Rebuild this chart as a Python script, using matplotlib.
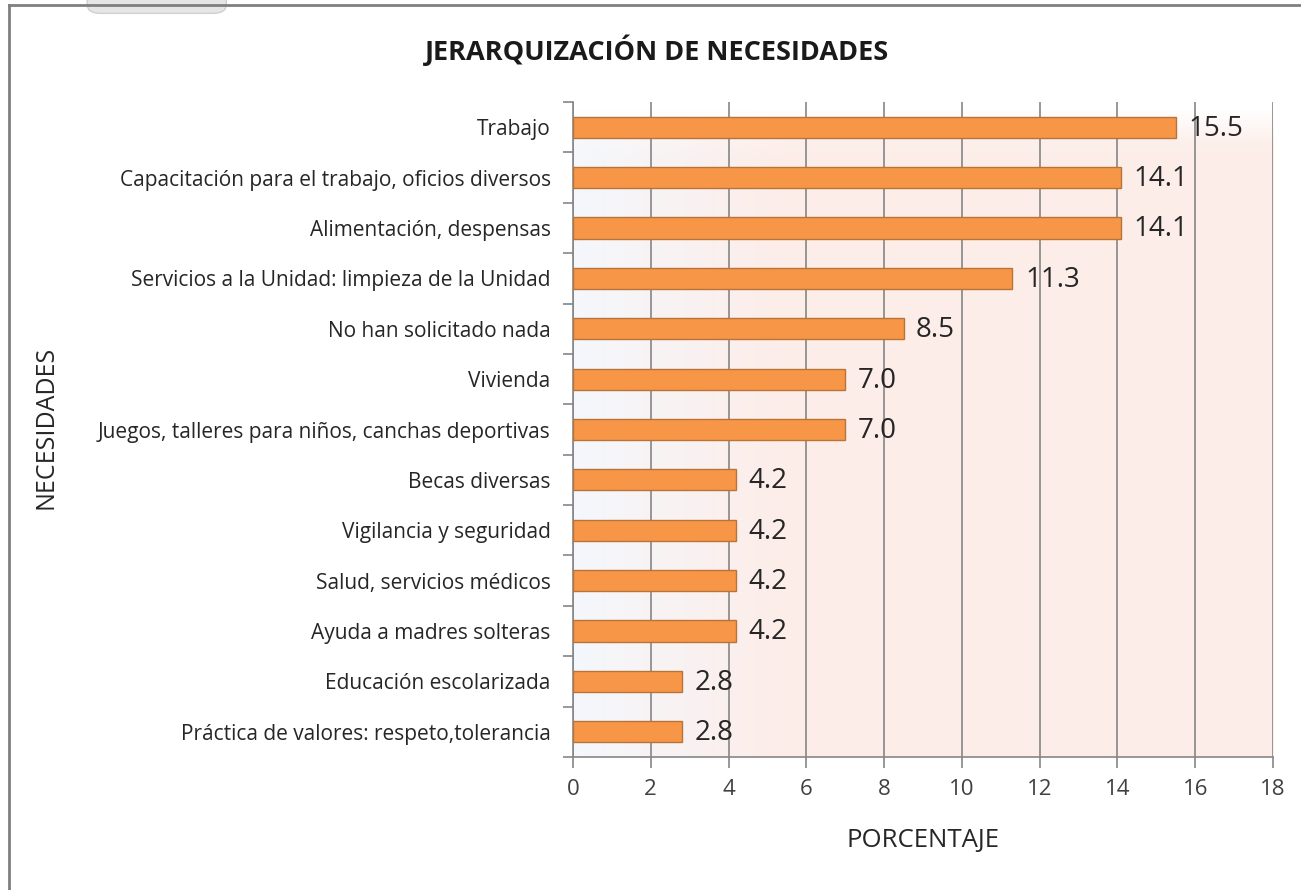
import numpy as np
import matplotlib
matplotlib.use('Agg')
import matplotlib.pyplot as plt
from matplotlib.patches import FancyBboxPatch
from matplotlib.lines import Line2D

necesidades = [
    'Trabajo',
    'Capacitación para el trabajo, oficios diversos',
    'Alimentación, despensas',
    'Servicios a la Unidad: limpieza de la Unidad',
    'No han solicitado nada',
    'Vivienda',
    'Juegos, talleres para niños, canchas deportivas',
    'Becas diversas',
    'Vigilancia y seguridad',
    'Salud, servicios médicos',
    'Ayuda a madres solteras',
    'Educación escolarizada',
    'Práctica de valores: respeto,tolerancia',
]
porcentaje = [15.5, 14.1, 14.1, 11.3, 8.5, 7.0, 7.0, 4.2, 4.2, 4.2, 4.2, 2.8, 2.8]
x_ticks = [0, 2, 4, 6, 8, 10, 12, 14, 16, 18]

plt.rcParams['font.family'] = ['Open Sans', 'DejaVu Sans']
grey = '#868686'

fig = plt.figure(figsize=(13.01, 8.90), dpi=100)
ax = fig.add_axes([0.4404, 0.1494, 0.5381, 0.736])

# soft gradient behind the bars: bluish white on the left, pale pink to the right
n = 256
t = np.clip(np.linspace(0, 1, n) / 0.3, 0, 1)
left = np.array([0.96, 0.97, 0.99])
right = np.array([0.99, 0.93, 0.91])
row = left[None, :] * (1 - t[:, None]) + right[None, :] * t[:, None]
grad = np.tile(row[None, :, :], (40, 1, 1))
# fade to white along the top edge (row 0 is drawn at the top)
vfade = np.clip(np.linspace(0, 1, 40) / 0.06, 0, 1)[:, None, None]
grad = grad * vfade + np.ones(3) * (1 - vfade)
ax.imshow(grad, extent=[0, 1, 0, 1], transform=ax.transAxes, origin='upper',
          aspect='auto', zorder=0, interpolation='bilinear')

y = np.arange(len(necesidades))
ax.barh(y, porcentaje, height=0.42, color='#F79646', edgecolor='#B8733A',
        linewidth=1.0, zorder=3)
for yi, v in zip(y, porcentaje):
    ax.annotate(f'{v:.1f}', (v, yi), xytext=(9, -1), textcoords='offset points',
                va='center', ha='left', fontsize=20, color='#262626', zorder=4)

ax.set_xlim(0, 18)
ax.set_ylim(len(necesidades) - 0.5, -0.5)
ax.set_xticks(x_ticks)
ax.set_xticklabels([str(v) for v in x_ticks], fontsize=16, color='#404040')
ax.set_yticks(y)
ax.set_yticklabels(necesidades, fontsize=15, color='#262626')
ax.set_yticks(np.arange(len(necesidades) + 1) - 0.5, minor=True)
ax.tick_params(axis='y', which='major', length=0, pad=16)
ax.tick_params(axis='y', which='minor', length=7, color=grey, width=1.2)
ax.tick_params(axis='x', length=8, color=grey, width=1.2, pad=8)
ax.grid(axis='x', color=grey, linewidth=1.2, zorder=1)
ax.set_axisbelow(True)
for side in ('top', 'right'):
    ax.spines[side].set_visible(False)
for side in ('left', 'bottom'):
    ax.spines[side].set_color(grey)
    ax.spines[side].set_linewidth(1.2)

ax.set_xlabel('PORCENTAJE', fontsize=18.5, color='#262626', labelpad=20)
fig.text(0.035, 0.52, 'NECESIDADES', rotation=90, fontsize=18, color='#262626',
         ha='center', va='center')
fig.text(0.505, 0.944, 'JERARQUIZACIÓN DE NECESIDADES', fontsize=19.5,
         fontweight='bold', color='#1a1a1a', ha='center', va='center')

# chart frame
fig.add_artist(Line2D([0.0069, 0.0069], [0, 0.9944], color='#7f7f7f', lw=2))
fig.add_artist(Line2D([0.0069, 1], [0.9944, 0.9944], color='#7f7f7f', lw=2))
fig.add_artist(FancyBboxPatch((0.067, 0.985), 0.107, 0.03,
                              boxstyle='round,pad=0,rounding_size=0.01',
                              transform=fig.transFigure, facecolor='#e6e6e6',
                              edgecolor='#d0d0d0', lw=1))

fig.savefig('out.png', dpi=100)
